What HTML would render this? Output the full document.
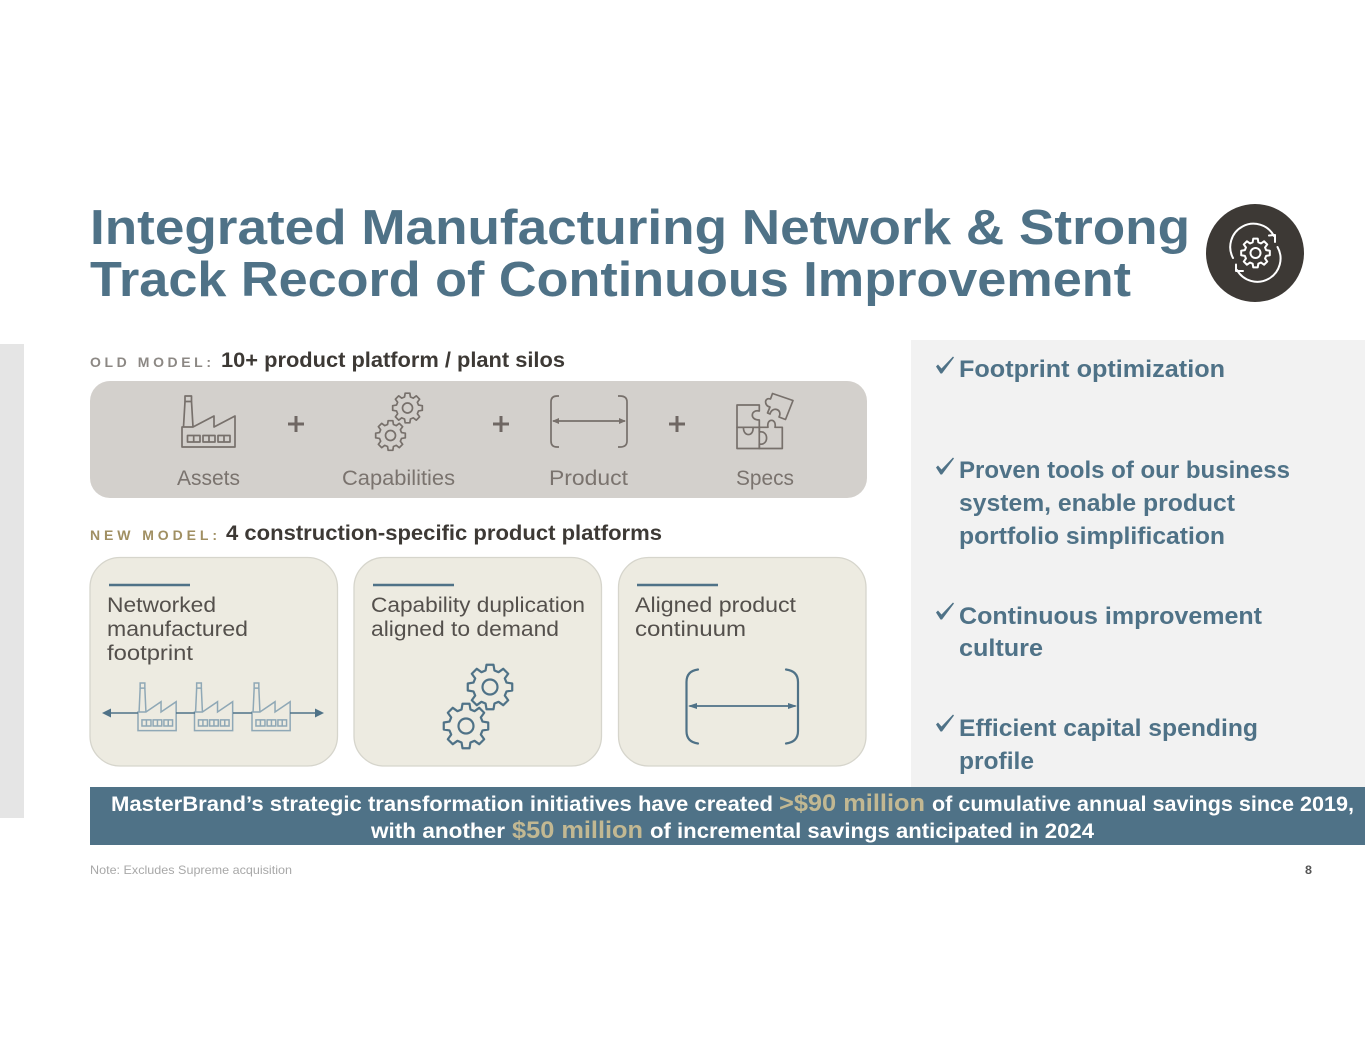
<!DOCTYPE html>
<html lang="en">
<head>
<meta charset="utf-8">
<title>Integrated Manufacturing Network</title>
<style>
html,body{margin:0;padding:0;background:#fff;width:1365px;height:1055px;overflow:hidden}
svg{display:block}
text{font-family:"Liberation Sans",sans-serif}
.b{font-weight:700}
</style>
</head>
<body>
<svg width="1365" height="1055" viewBox="0 0 1365 1055" xmlns="http://www.w3.org/2000/svg">
<defs>
<polygon id="gear" vector-effect="non-scaling-stroke" points=".734,-.197 .988,-.156 .988,.156 .734,.197 .658,.38 .809,.588 .588,.809 .38,.658 .197,.734 .156,.988 -.156,.988 -.197,.734 -.38,.658 -.588,.809 -.809,.588 -.658,.38 -.734,.197 -.988,.156 -.988,-.156 -.734,-.197 -.658,-.38 -.809,-.588 -.588,-.809 -.38,-.658 -.197,-.734 -.156,-.988 .156,-.988 .197,-.734 .38,-.658 .588,-.809 .809,-.588 .658,-.38"/>
<g id="factory" fill="none">
<path vector-effect="non-scaling-stroke" d="M1.5 31L3 5.500M9.500 5.500L11 31M0 31H11L32 20V31L53 20V51H0Z"/>
<rect vector-effect="non-scaling-stroke" x="3" y="0" width="6.500" height="5.500"/>
<path vector-effect="non-scaling-stroke" d="M5.500 39.500H18V46H5.500ZM11.700 39.500V46M21 39.500H33V46H21ZM27 39.500V46M36 39.500H48V46H36ZM42 39.500V46"/>
</g>
<path id="check" d="M936 366.500L938 364.500L941.500 368.500L953 356.500L954 357.500L942 373.500H940.500Z" fill="#4f7287"/>
</defs>

<!-- background panels -->
<rect x="0" y="344" width="24" height="474" fill="#e5e5e5"/>
<rect x="911" y="340" width="454" height="447" fill="#f2f2f2"/>

<!-- title -->
<text class="b" x="90" y="244" font-size="49" fill="#4f7287" textLength="1100" lengthAdjust="spacingAndGlyphs">Integrated Manufacturing Network &amp; Strong</text>
<text class="b" x="90" y="296" font-size="49" fill="#4f7287" textLength="1041" lengthAdjust="spacingAndGlyphs">Track Record of Continuous Improvement</text>

<!-- title icon -->
<circle cx="1255" cy="253" r="49" fill="#3d3935"/>
<g fill="none" stroke="#fff" stroke-width="2" stroke-linecap="round" stroke-linejoin="round">
<path d="M1233 258A22.500 22.500 0 0 1 1274 236"/>
<path d="M1277.500 247A22.500 22.500 0 0 1 1237 270"/>
<path d="M1269 235.500L1275 235L1275 242"/>
<path d="M1236 264.500L1236 271L1243 271"/>
<use href="#gear" transform="translate(1255.500 253) scale(14.500)"/>
<circle cx="1255.500" cy="253" r="5"/>
</g>

<!-- old model -->
<text class="b" x="90" y="367" font-size="14" fill="#8c8884" textLength="121" lengthAdjust="spacing">OLD MODEL:</text>
<text class="b" x="221" y="367" font-size="21" fill="#3d3935" textLength="344" lengthAdjust="spacingAndGlyphs">10+ product platform / plant silos</text>
<rect x="90" y="381" width="777" height="117" rx="20" fill="#d3d0cc"/>

<g stroke="#77706b" fill="none" stroke-width="1.700" stroke-linejoin="round">
<use href="#factory" transform="translate(182 396)"/>
<use href="#gear" transform="translate(407.500 408) scale(15)"/>
<circle cx="407.500" cy="408" r="5"/>
<use href="#gear" transform="translate(390.500 435.500) scale(15)"/>
<circle cx="390.500" cy="435.500" r="5"/>
<path d="M559 396H557Q551 396 551 402V441Q551 447 557 447H559"/>
<path d="M618 396H620Q627 396 627 402V441Q627 447 620 447H618"/>
<path d="M553 421H625"/>
<path d="M737 405H759.300V411C751 409 749 420 759.300 420V427.300H737Z"/>
<path d="M737 427.300H743.500C743 437 754 437 753 427.300H759.300V448.500H737Z"/>
<path d="M759.300 427.300H768C766 418 777 418 775 427.300H782.300V448.500H759.300V444C769 446 769 430 759.300 432Z"/>
<path d="M772.500 393.500L793 400.500L785.500 419.500L779 417C783 409 772 406 770 414L767.500 413L770 407C764 406 764 397 770.500 399Z"/>
</g>
<path d="M552 421L559 418V424ZM626 421L619 418V424Z" fill="#77706b"/>
<g stroke="#6f6763" stroke-width="3" fill="none">
<path d="M288 424H304M296 416V432M493 424H509M501 416V432M669 424H685M677 416V432"/>
</g>
<g font-size="21" fill="#7a736e">
<text x="177" y="485" textLength="63" lengthAdjust="spacingAndGlyphs">Assets</text>
<text x="342" y="485" textLength="113" lengthAdjust="spacingAndGlyphs">Capabilities</text>
<text x="549" y="485" textLength="79" lengthAdjust="spacingAndGlyphs">Product</text>
<text x="736" y="485" textLength="58" lengthAdjust="spacingAndGlyphs">Specs</text>
</g>

<!-- new model -->
<text class="b" x="90" y="540" font-size="14" fill="#a08f62" textLength="127" lengthAdjust="spacing">NEW MODEL:</text>
<text class="b" x="226" y="540" font-size="21" fill="#3d3935" textLength="436" lengthAdjust="spacingAndGlyphs">4 construction-specific product platforms</text>

<g fill="#edebe1" stroke="#d6d5cc" stroke-width="1.300">
<rect x="90" y="557.500" width="247.500" height="208.500" rx="30"/>
<rect x="354" y="557.500" width="247.500" height="208.500" rx="30"/>
<rect x="618.500" y="557.500" width="247.500" height="208.500" rx="30"/>
</g>
<path d="M109 585H190M373 585H454M637 585H718" stroke="#4f7287" stroke-width="2.500" fill="none"/>

<g font-size="21.500" fill="#54504c">
<text x="107" y="612" textLength="109" lengthAdjust="spacingAndGlyphs">Networked</text>
<text x="107" y="636" textLength="141" lengthAdjust="spacingAndGlyphs">manufactured</text>
<text x="107" y="660" textLength="86" lengthAdjust="spacingAndGlyphs">footprint</text>
<text x="371" y="612" textLength="214" lengthAdjust="spacingAndGlyphs">Capability duplication</text>
<text x="371" y="636" textLength="188" lengthAdjust="spacingAndGlyphs">aligned to demand</text>
<text x="635" y="612" textLength="161" lengthAdjust="spacingAndGlyphs">Aligned product</text>
<text x="635" y="636" textLength="111" lengthAdjust="spacingAndGlyphs">continuum</text>
</g>

<!-- card 1 icon -->
<g stroke="#8fa8b6" stroke-width="1.500" fill="none">
<use href="#factory" transform="translate(138 683) scale(.72 .935)"/>
<use href="#factory" transform="translate(194.500 683) scale(.72 .935)"/>
<use href="#factory" transform="translate(252 683) scale(.72 .935)"/>
</g>
<path d="M106 713H138M176 713H195M233 713H252M290 713H320" stroke="#4f7287" stroke-width="1.500" fill="none"/>
<path d="M102 713L111 708.500V717.500ZM324 713L315 708.500V717.500Z" fill="#4f7287"/>

<!-- card 2 icon -->
<g stroke="#4f7287" stroke-width="2.200" fill="none" stroke-linejoin="round">
<use href="#gear" transform="translate(490 687) scale(22.500)"/>
<circle cx="490" cy="687" r="7.500"/>
<use href="#gear" transform="translate(466 726) scale(22.500)"/>
<circle cx="466" cy="726" r="7.500"/>
</g>

<!-- card 3 icon -->
<g stroke="#4f7287" fill="none" stroke-linecap="round">
<path stroke-width="2.200" d="M698 669.500Q686.500 671 686.500 682V731Q686.500 742 698 743.500"/>
<path stroke-width="2.200" d="M786 669.500Q798 671 798 682V731Q798 742 786 743.500"/>
<path stroke-width="1.800" d="M690 706H795"/>
</g>
<path d="M688 706L697 703V709ZM797 706L788 703V709Z" fill="#4f7287"/>

<!-- right list -->
<use href="#check"/>
<use href="#check" y="101"/>
<use href="#check" y="246"/>
<use href="#check" y="358"/>
<g class="b" font-size="24" fill="#4f7287" font-weight="700">
<text x="959" y="377" textLength="266" lengthAdjust="spacingAndGlyphs">Footprint optimization</text>
<text x="959" y="478" textLength="331" lengthAdjust="spacingAndGlyphs">Proven tools of our business</text>
<text x="959" y="511" textLength="276" lengthAdjust="spacingAndGlyphs">system, enable product</text>
<text x="959" y="544" textLength="266" lengthAdjust="spacingAndGlyphs">portfolio simplification</text>
<text x="959" y="624" textLength="303" lengthAdjust="spacingAndGlyphs">Continuous improvement</text>
<text x="959" y="656" textLength="84" lengthAdjust="spacingAndGlyphs">culture</text>
<text x="959" y="736" textLength="299" lengthAdjust="spacingAndGlyphs">Efficient capital spending</text>
<text x="959" y="769" textLength="75" lengthAdjust="spacingAndGlyphs">profile</text>
</g>

<!-- banner -->
<rect x="90" y="787" width="1275" height="58" fill="#4f7287"/>
<g class="b" font-size="21" fill="#fff" font-weight="700">
<text x="111" y="811" textLength="662" lengthAdjust="spacingAndGlyphs">MasterBrand’s strategic transformation initiatives have created</text>
<text x="932" y="811" textLength="422" lengthAdjust="spacingAndGlyphs">of cumulative annual savings since 2019,</text>
<text x="371" y="838" textLength="134" lengthAdjust="spacingAndGlyphs">with another</text>
<text x="650" y="838" textLength="444" lengthAdjust="spacingAndGlyphs">of incremental savings anticipated in 2024</text>
</g>
<g class="b" font-size="24" fill="#c2b892" font-weight="700">
<text x="779" y="811" textLength="146" lengthAdjust="spacingAndGlyphs">&gt;$90 million</text>
<text x="512" y="838" textLength="131" lengthAdjust="spacingAndGlyphs">$50 million</text>
</g>

<!-- footer -->
<text x="90" y="874" font-size="12" fill="#a8a8a8" textLength="202" lengthAdjust="spacingAndGlyphs">Note: Excludes Supreme acquisition</text>
<text class="b" x="1305" y="874" font-size="11.500" fill="#555" textLength="7" lengthAdjust="spacingAndGlyphs">8</text>
</svg>
</body>
</html>
